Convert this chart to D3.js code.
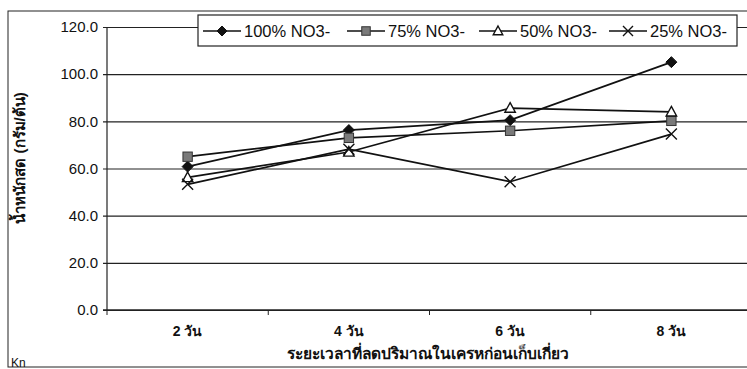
<!DOCTYPE html>
<html>
<head>
<meta charset="utf-8">
<script src="https://cdn.jsdelivr.net/npm/d3@7/dist/d3.min.js"></script>
<style>
  html, body { margin: 0; padding: 0; background: #ffffff; }
  svg { display: block; }
  text { font-family: "Liberation Sans", Arial, sans-serif; fill: #111; }
</style>
</head>
<body>
<svg id="chart" width="747" height="369"></svg>
<script>
// Fresh weight per plant by days of reduced nitrate before harvest
const categories = ["2 วัน", "4 วัน", "6 วัน", "8 วัน"];
const no3_100 = [60.8, 76.3, 80.5, 105.1];
const no3_75  = [65.0, 73.0, 76.0, 80.2];
const no3_50  = [56.2, 67.0, 85.6, 84.0];
const no3_25  = [53.3, 68.2, 54.4, 74.6];
const seriesNames = ["100% NO3-", "75% NO3-", "50% NO3-", "25% NO3-"];
const yTicks = [0, 20, 40, 60, 80, 100, 120];
const yTitle = "น้ำหนักสด (กรัม/ต้น)";
const xTitle = "ระยะเวลาที่ลดปริมาณในเครหก่อนเก็บเกี่ยว";

const series = [
  { name: seriesNames[0], values: no3_100, marker: "diamond" },
  { name: seriesNames[1], values: no3_75,  marker: "square" },
  { name: seriesNames[2], values: no3_50,  marker: "triangle" },
  { name: seriesNames[3], values: no3_25,  marker: "cross" }
];

const svg = d3.select("#chart");
const plot = { left: 107, right: 752, top: 27, bottom: 310 };

const x = d3.scaleBand().domain(categories).range([plot.left, plot.right]).padding(0);
const y = d3.scaleLinear().domain([0, 120]).range([plot.bottom, plot.top]);

// outer chart frame
svg.append("rect")
  .attr("x", 8).attr("y", 11).attr("width", 760).attr("height", 356)
  .attr("fill", "none").attr("stroke", "#222").attr("stroke-width", 1);

// horizontal gridlines + y axis labels
const yAxis = d3.axisLeft(y).tickValues(yTicks)
  .tickSize(-(plot.right - plot.left)).tickPadding(9)
  .tickFormat(d3.format(".1f"));
const gy = svg.append("g").attr("transform", `translate(${plot.left},0)`).call(yAxis);
gy.select(".domain").remove();
gy.selectAll(".tick line").attr("stroke", "#222").attr("stroke-width", 1.2)
  .attr("x1", -4);
gy.selectAll(".tick text").attr("font-size", 15).attr("fill", "#111");

// y axis line
svg.append("line")
  .attr("x1", plot.left).attr("x2", plot.left)
  .attr("y1", plot.top).attr("y2", plot.bottom)
  .attr("stroke", "#222").attr("stroke-width", 1.2);

// x axis with ticks at category boundaries
const gx = svg.append("g").attr("transform", `translate(0,${plot.bottom})`);
gx.append("line").attr("x1", plot.left - 4).attr("x2", plot.right)
  .attr("stroke", "#222").attr("stroke-width", 1.4);
gx.selectAll("line.tk").data(categories).enter().append("line")
  .attr("class", "tk")
  .attr("x1", d => x(d)).attr("x2", d => x(d))
  .attr("y1", 0).attr("y2", 5)
  .attr("stroke", "#222");
gx.selectAll("text.cat").data(categories).enter().append("text")
  .attr("class", "cat")
  .attr("x", d => x(d) + x.bandwidth() / 2)
  .attr("y", 26)
  .attr("text-anchor", "middle")
  .attr("font-size", 14)
  .attr("font-weight", "bold")
  .text(d => d);

// axis titles
svg.append("text")
  .attr("x", 428).attr("y", 359)
  .attr("text-anchor", "middle").attr("font-size", 15.5).attr("font-weight", "bold")
  .text(xTitle);
svg.append("text")
  .attr("transform", "translate(25,158) rotate(-90)")
  .attr("text-anchor", "middle").attr("font-size", 15).attr("font-weight", "bold")
  .text(yTitle);

// corner note
svg.append("text").attr("x", 11).attr("y", 367).attr("font-size", 12).text("Kn");

// marker drawing
function drawMarker(g, type, size) {
  const s = size;
  if (type === "diamond") {
    g.append("path").attr("d", `M0,${-s}L${s},0L0,${s}L${-s},0Z`)
      .attr("fill", "#111").attr("stroke", "#111");
  } else if (type === "square") {
    g.append("rect").attr("x", -s * 0.85).attr("y", -s * 0.85)
      .attr("width", s * 1.7).attr("height", s * 1.7)
      .attr("fill", "#7a7a7a").attr("stroke", "#333").attr("stroke-width", 1);
  } else if (type === "triangle") {
    g.append("path").attr("d", `M0,${-s}L${s * 0.95},${s * 0.75}L${-s * 0.95},${s * 0.75}Z`)
      .attr("fill", "#fff").attr("stroke", "#111").attr("stroke-width", 1.4);
  } else if (type === "cross") {
    g.append("path").attr("d", `M${-s},${-s}L${s},${s}M${s},${-s}L${-s},${s}`)
      .attr("stroke", "#111").attr("stroke-width", 1.4).attr("fill", "none");
  }
}

const line = d3.line()
  .x((d, i) => x(categories[i]) + x.bandwidth() / 2)
  .y(d => y(d));

// lines first, then markers on top
series.forEach(s => {
  svg.append("path").datum(s.values)
    .attr("d", line).attr("fill", "none")
    .attr("stroke", "#111").attr("stroke-width", 1.7);
});
series.forEach(s => {
  s.values.forEach((v, i) => {
    const g = svg.append("g")
      .attr("transform", `translate(${x(categories[i]) + x.bandwidth() / 2},${y(v)})`);
    drawMarker(g, s.marker, 5.5);
  });
});

// legend
const legend = svg.append("g");
legend.append("rect")
  .attr("x", 198).attr("y", 15).attr("width", 539).attr("height", 31)
  .attr("fill", "#fff").attr("stroke", "#222").attr("stroke-width", 1.2);
const legendX = [203, 347, 479, 609];
series.forEach((s, i) => {
  const g = legend.append("g").attr("transform", `translate(${legendX[i]},31)`);
  g.append("line").attr("x1", 0).attr("x2", 38).attr("y1", 0).attr("y2", 0)
    .attr("stroke", "#111").attr("stroke-width", 1.7);
  const m = g.append("g").attr("transform", "translate(19,0)");
  drawMarker(m, s.marker, 5);
  g.append("text").attr("x", 41).attr("y", 6).attr("font-size", 16.5).text(s.name);
});
</script>
</body>
</html>
